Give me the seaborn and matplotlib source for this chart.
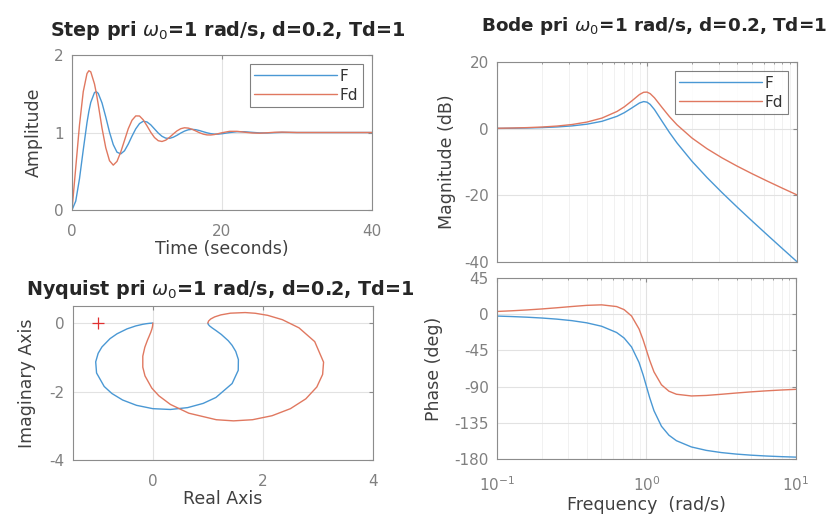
import matplotlib
matplotlib.use("Agg")
import matplotlib.pyplot as plt
import seaborn as sns
import numpy as np

# ---------------- data ----------------
t_step = [0, 0.5, 1, 1.5, 2, 2.25, 2.5, 3, 3.25, 3.5, 4, 4.5, 5, 5.5, 6, 6.5, 7, 7.5, 8, 8.5,
          9, 9.5, 10, 10.5, 11, 11.5, 12, 12.5, 13, 13.5, 14, 14.5, 15, 15.5, 16, 16.5,
          17, 17.5, 18, 18.5, 19, 19.5, 20, 21, 22, 23, 24, 25, 26, 27, 28, 30, 35, 40]
F_step = [0, 0.115, 0.405, 0.775, 1.128, 1.273, 1.388, 1.516, 1.526, 1.505, 1.382, 1.201,
          1.005, 0.844, 0.746, 0.724, 0.764, 0.850, 0.953, 1.047, 1.115, 1.145, 1.136, 1.099,
          1.046, 0.993, 0.951, 0.927, 0.924, 0.939, 0.964, 0.993, 1.018, 1.035, 1.041, 1.036,
          1.025, 1.010, 0.996, 0.985, 0.979, 0.979, 0.984, 0.999, 1.010, 1.010, 1.002, 0.995,
          0.994, 0.998, 1.002, 1.000, 1.000, 1.000]
Fd_step = [0, 0.549, 1.099, 1.527, 1.761, 1.797, 1.783, 1.626, 1.503, 1.361, 1.057, 0.804,
           0.636, 0.579, 0.627, 0.748, 0.898, 1.048, 1.158, 1.214, 1.213, 1.163, 1.086, 1.003,
           0.935, 0.894, 0.884, 0.901, 0.937, 0.981, 1.021, 1.049, 1.061, 1.057, 1.042, 1.020,
           0.997, 0.979, 0.969, 0.968, 0.974, 0.985, 0.997, 1.015, 1.015, 1.004, 0.994, 0.991,
           0.996, 1.003, 1.005, 1.000, 1.000, 1.000]

w_bode = [0.1, 0.1259, 0.1585, 0.1995, 0.2512, 0.3162, 0.3981, 0.5012, 0.631, 0.7079, 0.7943,
          0.8913, 0.95, 1.0, 1.05, 1.122, 1.2589, 1.4125, 1.5849, 1.9953, 2.5119, 3.1623,
          3.9811, 5.0119, 6.3096, 7.9433, 10.0]
F_mag = [0.080, 0.127, 0.203, 0.323, 0.516, 0.830, 1.346, 2.212, 3.706, 4.828, 6.249, 7.711,
         8.127, 7.959, 7.284, 5.712, 2.250, -1.172, -4.294, -9.788, -14.654, -19.170, -23.483,
         -27.677, -31.798, -35.873, -39.920]
Fd_mag = [0.123, 0.196, 0.310, 0.493, 0.782, 1.244, 1.985, 3.185, 5.161, 6.592, 8.374, 10.25,
          10.92, 10.97, 10.51, 9.25, 6.374, 3.593, 1.161, -2.815, -6.015, -8.756, -11.217,
          -13.508, -15.69, -17.805, -19.877]
F_phase = [-2.31, -2.93, -3.72, -4.75, -6.12, -8.00, -10.72, -14.99, -22.75, -29.58, -40.72,
           -60.01, -75.61, -90.0, -103.71, -119.98, -139.28, -150.42, -157.25, -165.01, -169.28,
           -172.0, -173.88, -175.25, -176.28, -177.07, -177.69]
Fd_phase = [3.40, 4.25, 5.29, 6.53, 7.98, 9.55, 10.99, 11.63, 9.50, 5.72, -2.26, -18.30, -32.08,
            -45.0, -57.31, -71.69, -87.74, -95.72, -99.50, -101.63, -100.99, -99.55, -97.98,
            -96.53, -95.29, -94.25, -93.40]

F_re = [1.0, 1.0085, 1.0345, 1.0801, 1.1488, 1.2448, 1.3699, 1.4398, 1.5066, 1.5547, 1.5517,
        1.4408, 1.1467, 0.9153, 0.6335, 0.3195, 0.0, -0.2966, -0.5484, -0.7442, -0.8835,
        -1.0219, -1.0377, -0.9931, -0.9243, -0.7772, -0.6502, -0.4685, -0.3112, -0.1838,
        -0.1222, -0.0659, -0.0284, -0.0101, -0.0025, 0.0]
F_im = [0.0, -0.0407, -0.0862, -0.1424, -0.2188, -0.3320, -0.5137, -0.6482, -0.8272, -1.0661,
        -1.3793, -1.7653, -2.1726, -2.3456, -2.4691, -2.5237, -2.5, -2.4024, -2.2472, -2.0562,
        -1.8511, -1.4575, -1.1321, -0.8828, -0.6966, -0.4534, -0.3121, -0.1685, -0.0830,
        -0.0350, -0.0183, -0.0070, -0.0020, -0.0004, -0.0001, 0.0]
Fd_re = [1.0, 1.0125, 1.0517, 1.1229, 1.2363, 1.4108, 1.6781, 1.8611, 2.0857, 2.3543, 2.6552,
         2.9413, 3.1020, 3.0849, 2.9792, 2.7800, 2.5, 2.1658, 1.8111, 1.4663, 1.1527, 0.6543,
         0.3208, 0.1103, -0.0188, -0.1425, -0.1821, -0.1819, -0.1452, -0.0963, -0.0672,
         -0.0378, -0.0167, -0.0060, -0.0015, 0.0]
Fd_im = [0.0, 0.0601, 0.1207, 0.1816, 0.2407, 0.2905, 0.3082, 0.2877, 0.2275, 0.0999, -0.1379,
         -0.5406, -1.1406, -1.4990, -1.8673, -2.2121, -2.5, -2.7064, -2.8230, -2.8563, -2.8229,
         -2.6327, -2.3774, -2.1242, -1.8982, -1.5415, -1.2874, -0.9649, -0.7054, -0.4945,
         -0.3851, -0.2707, -0.1726, -0.1013, -0.0502, 0.0]

labels = ["F", "Fd"]
titles = [r"Step pri $\omega_0$=1 rad/s, d=0.2, Td=1",
          r"Bode pri $\omega_0$=1 rad/s, d=0.2, Td=1",
          r"Nyquist pri $\omega_0$=1 rad/s, d=0.2, Td=1"]

# ---------------- style ----------------
sns.set_style("white")
plt.rcParams["font.family"] = ["DejaVu Sans"]
plt.rcParams["mathtext.fontset"] = "dejavusans"
plt.rcParams["axes.unicode_minus"] = False

C_F = "#4a98d4"
C_FD = "#e07860"
SPINE = "#8c8c8c"
TICKC = "#808080"
LABC = "#404040"
GRID = "#e2e2e2"
LW = 1.0
TS = 11
LS = 12.5
TTS = 13.8

W, H = 837, 518
fig = plt.figure(figsize=(W / 100, H / 100), dpi=100)


def box(l, t, r, b):
    return [l / W, 1 - b / H, (r - l) / W, (b - t) / H]


ax_step = fig.add_axes(box(72, 55, 372, 210))
ax_mag = fig.add_axes(box(497, 62, 797, 262))
ax_ph = fig.add_axes(box(497, 278, 796, 459))
ax_ny = fig.add_axes(box(73, 306, 373, 460))


def style(ax, minor=False, xpad=10):
    for s in ax.spines.values():
        s.set_color(SPINE)
        s.set_linewidth(0.8)
    ax.tick_params(direction="in", length=3, color=SPINE, labelcolor=TICKC,
                   labelsize=TS, top=True, right=True, pad=6)
    ax.tick_params(axis="x", pad=xpad)
    ax.grid(True, which="major", color=GRID, linewidth=0.8)
    if minor:
        ax.grid(True, which="minor", color="#efefef", linewidth=0.6)
        ax.tick_params(which="minor", direction="in", length=1.5, color=SPINE, top=True)
    ax.set_axisbelow(True)


def legend(ax):
    lg = ax.legend(loc="upper right", frameon=True, fancybox=False, fontsize=11,
                   handlelength=5.4, borderpad=0.3, labelspacing=0.25,
                   handletextpad=0.2, borderaxespad=0.6)
    lg.get_frame().set_edgecolor("#606060")
    lg.get_frame().set_linewidth(0.8)
    for txt in lg.get_texts():
        txt.set_color("#333333")


def line(ax, x, y, c, lab=None):
    sns.lineplot(x=x, y=y, ax=ax, color=c, linewidth=LW, sort=False, estimator=None,
                 label=lab, legend=lab is not None)


# Step
line(ax_step, t_step, F_step, C_F, labels[0])
line(ax_step, t_step, Fd_step, C_FD, labels[1])
ax_step.set_xlim(0, 40)
ax_step.set_ylim(0, 2)
ax_step.set_xticks([0, 20, 40])
ax_step.set_yticks([0, 1, 2])
ax_step.set_xlabel("Time (seconds)", fontsize=LS, color=LABC, labelpad=1)
ax_step.set_ylabel("Amplitude", fontsize=LS, color=LABC, labelpad=8)
ax_step.set_title(titles[0], fontsize=TTS, fontweight="bold", pad=14)
ax_step.title.set_x(0.52)
style(ax_step)
legend(ax_step)

# Bode magnitude
line(ax_mag, w_bode, F_mag, C_F, labels[0])
line(ax_mag, w_bode, Fd_mag, C_FD, labels[1])
ax_mag.set_xscale("log")
ax_mag.set_xlim(0.1, 10)
ax_mag.set_ylim(-40, 20)
ax_mag.set_yticks([-40, -20, 0, 20])
ax_mag.set_xlabel("")
ax_mag.set_ylabel("Magnitude (dB)", fontsize=LS, color=LABC, labelpad=6)
ax_mag.set_title(titles[1], fontsize=13.2, fontweight="bold", pad=22)
ax_mag.title.set_x(0.525)
style(ax_mag, minor=True)
ax_mag.tick_params(axis="x", which="both", labelbottom=False)
legend(ax_mag)

# Bode phase
line(ax_ph, w_bode, F_phase, C_F)
line(ax_ph, w_bode, Fd_phase, C_FD)
ax_ph.set_xscale("log")
ax_ph.set_xlim(0.1, 10)
ax_ph.set_ylim(-180, 45)
ax_ph.set_yticks([-180, -135, -90, -45, 0, 45])
ax_ph.set_xticks([0.1, 1, 10])
ax_ph.set_xticklabels([r"$10^{-1}$", r"$10^{0}$", r"$10^{1}$"])
ax_ph.set_xlabel("Frequency  (rad/s)", fontsize=LS, color=LABC, labelpad=1)
ax_ph.set_ylabel("Phase (deg)", fontsize=LS, color=LABC, labelpad=8)
style(ax_ph, minor=True, xpad=12)

# Nyquist
line(ax_ny, F_re, F_im, C_F)
line(ax_ny, Fd_re, Fd_im, C_FD)
ax_ny.plot([-1], [0], marker="+", color="#e03030", markersize=8, markeredgewidth=0.9)
ax_ny.set_xlim(-1.45, 4)
ax_ny.set_ylim(-4, 0.5)
ax_ny.set_xticks([0, 2, 4])
ax_ny.set_yticks([-4, -2, 0])
ax_ny.set_xlabel("Real Axis", fontsize=LS, color=LABC, labelpad=1)
ax_ny.set_ylabel("Imaginary Axis", fontsize=LS, color=LABC, labelpad=10)
ax_ny.set_title(titles[2], fontsize=TTS, fontweight="bold", pad=8)
ax_ny.title.set_x(0.49)
style(ax_ny)

fig.savefig("out.png", dpi=100)
